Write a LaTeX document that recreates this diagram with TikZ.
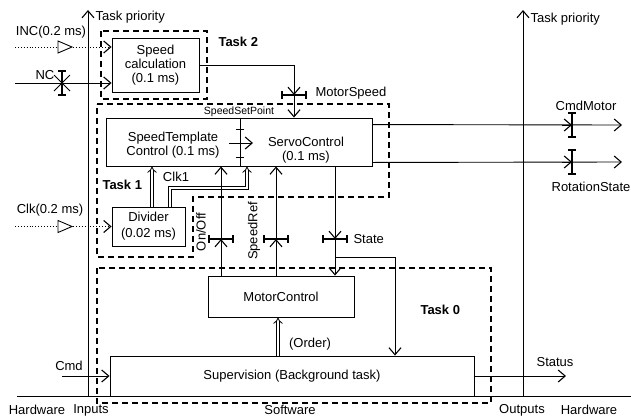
\documentclass[tikz,border=0pt]{standalone}
\usepackage{fontspec}
\setmainfont{Liberation Sans}
\usetikzlibrary{arrows.meta,calc}
\tikzset{
	blk/.style={draw, line width=0.9pt, inner sep=0pt, align=center},
	sig/.style={line width=0.9pt, -{Straight Barb[length=7pt,width=12pt,line width=1.1pt]}},
	dbl/.style={double, double distance=2.4pt, line width=0.8pt, -{Implies[length=6pt,width=12pt]}},
	task/.style={line width=1.1pt, dash pattern=on 6pt off 4pt},
	tasktxt/.style={font=\fontsize{13}{14}\selectfont\bfseries, anchor=west},
	beam/.style={line width=1.4pt},
}
% shared variable: bar across a vertical flow, arrowhead coming from #2
\def\hstore(#1)(#2){%
	\draw[beam] ($(#1)+(-12,0)$) -- ($(#1)+(12,0)$);
	\draw[beam] ($(#1)+(-12,-4)$) -- ($(#1)+(-12,4)$);
	\draw[beam] ($(#1)+(12,-4)$) -- ($(#1)+(12,4)$);
	\draw[sig] ($(#1)+(#2)$) -- (#1);}
% same thing across a horizontal flow
\def\vstore(#1)(#2){%
	\draw[beam] ($(#1)+(0,-12)$) -- ($(#1)+(0,12)$);
	\draw[beam] ($(#1)+(-4,-12)$) -- ($(#1)+(4,-12)$);
	\draw[beam] ($(#1)+(-4,12)$) -- ($(#1)+(4,12)$);
	\draw[sig] ($(#1)+(#2)$) -- (#1);}

\begin{document}
\begin{tikzpicture}[x=1pt, y=-1pt, font=\fontsize{13}{14}\selectfont]
	\useasboundingbox (0,0) rectangle (631,418);

	%%%%% axes %%%%%
	\draw[line width=1pt] (17,396) -- (631,396);
	\draw[sig] (88,396) -- (88,10);
	\draw[sig] (523,396) -- (523,10);
	\node[anchor=west] (prioL) at (92,17) {Task priority};
	\node[anchor=west] (prioR) at (527,19) {Task priority};

	\node (hwL) at (37,410) {Hardware};
	\node (inp) at (91,410) {Inputs};
	\node (sw) at (290,410) {Software};
	\node (outp) at (522,410) {Outputs};
	\node (hwR) at (589,410) {Hardware};

	%%%%% tasks %%%%%
	\draw[task] (101,31) rectangle (207,99);
	\draw[task] (97,104) -- (389,104) -- (389,197) -- (193,197) -- (193,257) -- (97,257) -- cycle;
	\draw[task] (97,268) rectangle (491,403);
	\node[tasktxt] (t2) at (215,42) {Task 2};
	\node[tasktxt] (t1) at (99,185) {Task 1};
	\node[tasktxt] (t0) at (417,310) {Task 0};

	%%%%% blocks %%%%%
	\node[blk, minimum width=87pt, minimum height=54pt] (speedcalc) at (155.5,65) {Speed\\calculation\\(0.1 ms)};
	\node[blk, minimum width=266pt, minimum height=48pt] (ctrl) at (239,142) {};
	\node[align=center] (tmpl) at (173,145) {SpeedTemplate\\Control (0.1 ms)};
	\node[align=center] (servo) at (306,150) {ServoControl\\(0.1 ms)};
	\node[blk, minimum width=73pt, minimum height=39pt, font=\fontsize{13}{16}\selectfont] (divider) at (148.5,226.5) {Divider\\(0.02 ms)};
	\node[blk, minimum width=146pt, minimum height=41pt] (motor) at (281,296.5) {MotorControl};
	\node[blk, minimum width=364pt, minimum height=40pt] (superv) at (292,376) {Supervision (Background task)};

	%%%%% inputs %%%%%
	\coordinate (inc) at (15,47);
	\coordinate (nc) at (15,83);
	\coordinate (clk) at (15,226.5);
	\coordinate (cmd) at (62,376);
	\draw[sig, dotted] (inc) -- (inc -| speedcalc.west);
	\draw[line width=0.9pt, fill=white] (58,41) -- (72,47) -- (58,53) -- cycle;
	\node (inctxt) at (51,32) {INC(0.2 ms)};
	\draw[sig] (nc) -- (nc -| speedcalc.west);
	\draw[beam] (62,71) -- (62,95) (58,71) -- (66,71) (58,95) -- (66,95);
	\draw[line width=1pt] (54,75) -- (70,91) (54,91) -- (70,75);
	\node (nctxt) at (45,75) {NC};
	\draw[sig, dotted] (clk) -- (divider.west);
	\draw[line width=0.9pt, fill=white] (58,220.5) -- (72,226.5) -- (58,232.5) -- cycle;
	\node (clktxt) at (50,210) {Clk(0.2 ms)};
	\draw[sig] (cmd) -- (superv.west);
	\node (cmdtxt) at (69,366) {Cmd};

	%%%%% Task 2 -> Task 1 %%%%%
	\coordinate (ms) at (294,95);
	\draw[sig] (speedcalc.east) -| (ms |- ctrl.north);
	\hstore(ms)(0,-10)
	\node[anchor=west] (mstxt) at (312,93) {MotorSpeed};

	\coordinate (ssp) at (240,143);
	\draw[line width=1pt] (ssp |- ctrl.north) -- (ssp |- ctrl.south);
	\draw[line width=1pt] (236,129) -- (244,129) (236,157) -- (244,157);
	\draw[sig] (229,143) -- (253,143);
	\node[font=\fontsize{10.5}{12}\selectfont] (ssptxt) at (239,112) {SpeedSetPoint};

	%%%%% clock from the divider %%%%%
	\draw[dbl] ([xshift=3.5pt]divider.north) -- ([xshift=3.5pt]divider.north |- ctrl.south);
	\coordinate (k1) at (247,188);
	\draw[dbl] ([xshift=21.5pt]divider.north) |- (k1) -- (k1 |- ctrl.south);
	\node (clk1txt) at (176,177) {Clk1};

	%%%%% outputs %%%%%
	\coordinate (cm) at (572,125);
	\coordinate (rs) at (572,162);
	\draw[sig] ([yshift=-7pt]ctrl.north east) -- (cm -| 622,0);
	\draw[sig] ([yshift=4pt]ctrl.south east) -- (rs -| 622,0);
	\vstore(cm)(-10,0)
	\vstore(rs)(-10,0)
	\node (cmtxt) at (586,106) {CmdMotor};
	\node (rstxt) at (591,187) {RotationState};
	\draw[sig] (superv.east) -- (566,376);
	\node (sttxt) at (555,362) {Status};

	%%%%% Task 0 <-> Task 1 %%%%%
	\coordinate (onoff) at (221,239);
	\coordinate (sref) at (276,239);
	\coordinate (st) at (335,239);
	\draw[sig] (onoff |- motor.north) -- (onoff |- ctrl.south);
	\hstore(onoff)(0,10)
	\node[rotate=90] (ontxt) at (201,232) {On/Off};
	\draw[sig] (sref |- motor.north) -- (sref |- ctrl.south);
	\hstore(sref)(0,10)
	\node[rotate=90] (srtxt) at (254,231) {SpeedRef};
	\draw[sig] (st |- ctrl.south) -- (st |- motor.north);
	\hstore(st)(0,-10)
	\node[anchor=west] (statetxt) at (350,239) {State};
	\coordinate (stb) at (335,257);
	\draw[sig] (stb) -| ($(superv.north)+(103,0)$);

	\coordinate (ord) at ($(superv.north)+(-14,0)$);
	\draw[dbl] (ord) -- (ord |- motor.south);
	\node (ordtxt) at (310,344) {(Order)};
\end{tikzpicture}
\end{document}
